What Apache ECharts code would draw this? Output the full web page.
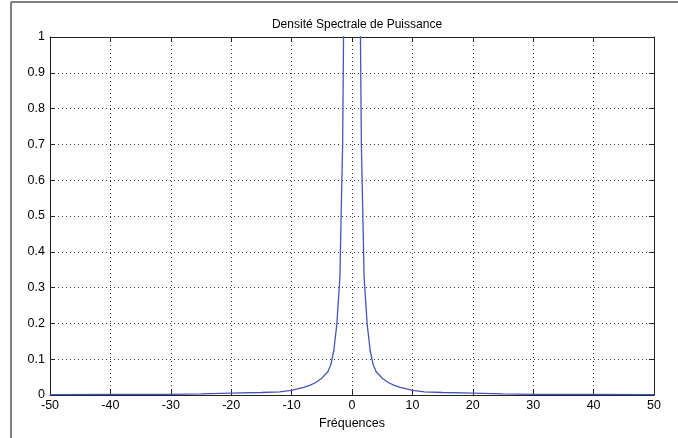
<!DOCTYPE html>
<html>
<head>
<meta charset="utf-8">
<script src="https://cdn.jsdelivr.net/npm/echarts@6/dist/echarts.min.js"></script>
<style>
html,body{margin:0;padding:0;background:#fff;}
#c{width:678px;height:438px;}
</style>
</head>
<body>
<div id="c"></div>
<script>
const titleText = 'Densité Spectrale de Puissance';
const xLabel = 'Fréquences';
const freqs = [-50,-40,-30,-25,-20,-15,-12,-10,-8,-7,-6,-5,-4,-3.5,-3,-2.5,-2,-1.8,-1.55,-1.4,-1.3,0,1.3,1.4,1.55,1.8,2,2.5,3,3.5,4,5,6,7,8,10,12,15,20,25,30,40,50];
const psd = [0.001,0.0015,0.002,0.003,0.005,0.007,0.009,0.013,0.021,0.027,0.035,0.047,0.065,0.085,0.125,0.2,0.33,0.5,0.7,1.0,1.15,8,1.15,1.0,0.7,0.5,0.33,0.2,0.125,0.085,0.065,0.047,0.035,0.027,0.021,0.013,0.009,0.007,0.005,0.003,0.002,0.0015,0.001];
const xMin = -50, xMax = 50, xStep = 10;
const yMin = 0, yMax = 1, yStep = 0.1;

const chart = echarts.init(document.getElementById('c'), null, {renderer: 'canvas'});
const font = 'Liberation Sans, Arial, sans-serif';
const axisCol = '#222';
const gridLine = {show: true, lineStyle: {color: '#333', type: [1, 3], width: 1}};
const tick = {show: true, inside: true, length: 5, lineStyle: {color: axisCol}};
const line = {show: true, onZero: false, lineStyle: {color: axisCol, width: 1}};

chart.setOption({
  animation: false,
  backgroundColor: '#fff',
  title: {
    text: titleText, left: 352, top: 14, textAlign: 'center',
    textStyle: {fontFamily: font, fontSize: 12, fontWeight: 'normal', color: '#000'}
  },
  grid: {left: 50, right: 24, top: 37, bottom: 43},
  xAxis: [{
    type: 'value', min: xMin, max: xMax, interval: xStep, position: 'bottom',
    name: xLabel, nameLocation: 'middle', nameGap: 20,
    nameTextStyle: {fontFamily: font, fontSize: 12.5, color: '#000'},
    axisLine: line, axisTick: tick, splitLine: gridLine,
    axisLabel: {fontFamily: font, fontSize: 12.5, color: '#000', margin: 4}
  }, {
    type: 'value', min: xMin, max: xMax, interval: xStep, position: 'top',
    axisLine: line, axisTick: tick, splitLine: {show: false}, axisLabel: {show: false}
  }],
  yAxis: [{
    type: 'value', min: yMin, max: yMax, interval: yStep, position: 'left',
    axisLine: line, axisTick: tick, splitLine: gridLine,
    axisLabel: {fontFamily: font, fontSize: 12.5, color: '#000', margin: 5,
      formatter: v => String(+v.toFixed(1))}
  }, {
    type: 'value', min: yMin, max: yMax, interval: yStep, position: 'right',
    axisLine: line, axisTick: tick, splitLine: {show: false}, axisLabel: {show: false}
  }],
  graphic: [
    {type: 'line', shape: {x1: 11, y1: 2, x2: 678, y2: 2}, style: {stroke: '#808080', lineWidth: 2}},
    {type: 'line', shape: {x1: 11, y1: 2, x2: 11, y2: 438}, style: {stroke: '#808080', lineWidth: 2}}
  ],
  series: [{
    type: 'line', xAxisIndex: 0, yAxisIndex: 0,
    data: freqs.map((f, i) => [f, psd[i]]),
    showSymbol: false, clip: true,
    lineStyle: {color: '#4455bb', width: 1.3},
    itemStyle: {color: '#4455bb'}
  }]
});
</script>
</body>
</html>
